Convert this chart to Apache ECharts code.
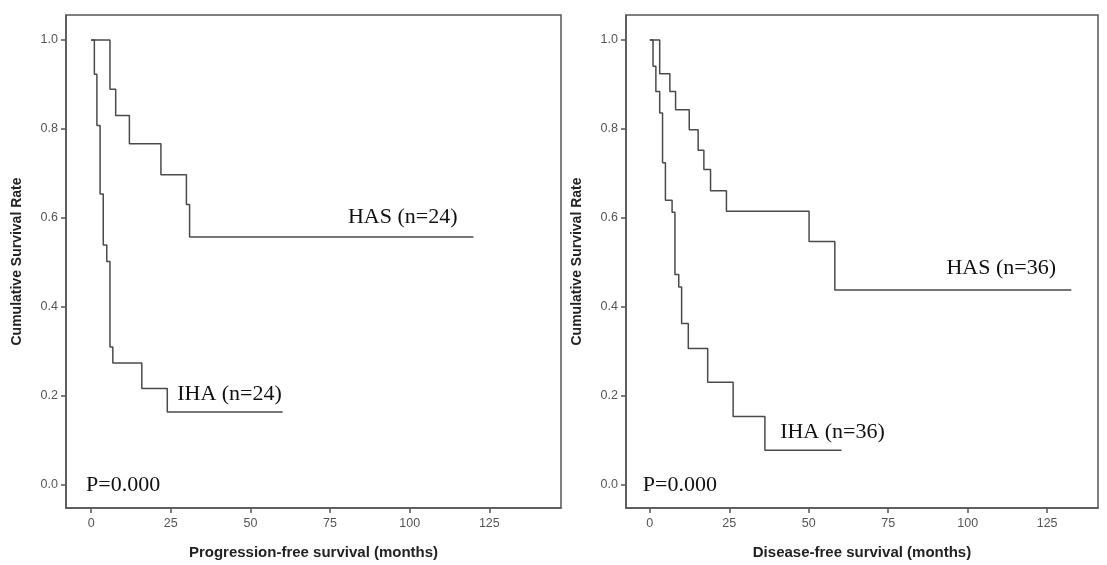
<!DOCTYPE html>
<html>
<head>
<meta charset="utf-8">
<script src="https://cdn.jsdelivr.net/npm/echarts@6/dist/echarts.min.js"></script>
<style>
  html, body { margin: 0; padding: 0; background: #fff; }
  #main { width: 1107px; height: 565px; }
</style>
</head>
<body>
<div id="main"></div>
<script>
// survival steps: time of each drop (months) and survival after it
// left panel: progression-free survival
var pfsHasTime = [0, 5.9, 7.7, 12.0, 21.9, 29.9, 30.9, 120]
var pfsHasSurv = [1.0, 0.889, 0.830, 0.767, 0.697, 0.630, 0.557, 0.557]
var pfsIhaTime = [0, 1.0, 1.8, 2.8, 3.8, 4.9, 5.9, 6.8, 15.9, 23.9, 60.1]
var pfsIhaSurv = [1.0, 0.923, 0.808, 0.654, 0.539, 0.502, 0.310, 0.274, 0.217, 0.164, 0.164]

// right panel: disease-free survival
var dfsHasTime = [0, 3.1, 6.3, 8.1, 12.4, 15.2, 17.0, 19.1, 24.1, 50.1, 58.2, 132.6]
var dfsHasSurv = [1.0, 0.924, 0.884, 0.843, 0.798, 0.752, 0.709, 0.661, 0.615, 0.547, 0.438, 0.438]
var dfsIhaTime = [0, 1.0, 1.9, 3.1, 4.0, 4.9, 7.0, 7.9, 9.1, 10.0, 12.1, 18.2, 26.2, 36.2, 60.3]
var dfsIhaSurv = [1.0, 0.941, 0.884, 0.836, 0.724, 0.640, 0.613, 0.473, 0.445, 0.363, 0.307, 0.231, 0.154, 0.078, 0.078]

var xTicks = [0, 25, 50, 75, 100, 125]
var yTicks = [0, 0.2, 0.4, 0.6, 0.8, 1.0]
var xNames = ['Progression-free survival (months)', 'Disease-free survival (months)']
var yName = 'Cumulative Survival Rate'

// text notes: [panel, label, x (months), y (survival)]
var notes = [
  [0, 'HAS (n=24)', 80.6, 0.602],
  [0, 'IHA (n=24)', 27, 0.204],
  [0, 'P=0.000', -1.6, 0.0],
  [1, 'HAS (n=36)', 93.3, 0.486],
  [1, 'IHA (n=36)', 41, 0.119],
  [1, 'P=0.000', -2.2, 0.0]
]

function pairs(t, s) {
  return t.map(function (v, i) { return [v, s[i]] })
}

var lineColor = '#4a4a4a'
var boxColor = '#555'

function makeX(idx, min, max) {
  return {
    type: 'value', gridIndex: idx, min: min, max: max,
    name: xNames[idx], nameLocation: 'middle', nameGap: 37,
    nameTextStyle: {fontFamily: 'Liberation Sans', fontWeight: 'bold', fontSize: 15, color: '#222'},
    axisLine: {show: true, onZero: false, lineStyle: {color: boxColor, width: 1.5}},
    axisTick: {show: true, customValues: xTicks, length: 5, lineStyle: {color: boxColor, width: 1.5}},
    axisLabel: {customValues: xTicks, margin: 9, fontFamily: 'Liberation Sans', fontSize: 12.5, color: '#555'},
    splitLine: {show: false}
  }
}

function makeY(idx) {
  return {
    type: 'value', gridIndex: idx, min: -0.0516, max: 1.056,
    name: yName, nameLocation: 'middle', nameGap: 42,
    nameTextStyle: {fontFamily: 'Liberation Sans', fontWeight: 'bold', fontSize: 14, color: '#222'},
    axisLine: {show: true, onZero: false, lineStyle: {color: boxColor, width: 1.5}},
    axisTick: {show: true, customValues: yTicks, length: 5, lineStyle: {color: boxColor, width: 1.5}},
    axisLabel: {
      customValues: yTicks, margin: 8, fontFamily: 'Liberation Sans', fontSize: 12.5, color: '#555',
      formatter: function (v) { return v.toFixed(1) }
    },
    splitLine: {show: false}
  }
}

function stepSeries(idx, data) {
  return {
    type: 'line', xAxisIndex: idx, yAxisIndex: idx, step: 'end',
    data: data, symbol: 'none', silent: true, animation: false,
    lineStyle: {color: lineColor, width: 1.5}
  }
}

var chart = echarts.init(document.getElementById('main'))
chart.setOption({
  animation: false,
  backgroundColor: '#fff',
  grid: [
    {left: 66, top: 15, width: 495, height: 494, show: true, borderColor: boxColor, borderWidth: 1.5},
    {left: 626, top: 15, width: 472, height: 494, show: true, borderColor: boxColor, borderWidth: 1.5}
  ],
  xAxis: [makeX(0, -7.9, 147.5), makeX(1, -7.5, 141)],
  yAxis: [makeY(0), makeY(1)],
  series: [
    stepSeries(0, pairs(pfsHasTime, pfsHasSurv)),
    stepSeries(0, pairs(pfsIhaTime, pfsIhaSurv)),
    stepSeries(1, pairs(dfsHasTime, dfsHasSurv)),
    stepSeries(1, pairs(dfsIhaTime, dfsIhaSurv))
  ]
})

// place the text notes at data positions
var graphics = notes.map(function (n) {
  var p = chart.convertToPixel({gridIndex: n[0]}, [n[2], n[3]])
  return {
    type: 'text', x: p[0], y: p[1],
    style: {
      text: n[1], fill: '#111', font: '22px "Liberation Serif"',
      textAlign: 'left', textVerticalAlign: 'middle'
    }
  }
})
chart.setOption({graphic: graphics})
</script>
</body>
</html>
